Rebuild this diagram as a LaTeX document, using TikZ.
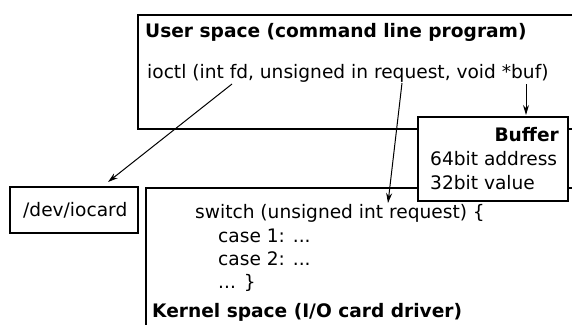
\documentclass[tikz,border=0pt]{standalone}
\usepackage{fontspec}
\setmainfont{DejaVu Sans}
\usetikzlibrary{arrows.meta}
\begin{document}
\begin{tikzpicture}[x=1pt,y=-1pt,
  box/.style={draw,line width=1.2pt,fill=white},
  txt/.style={inner sep=0pt,anchor=base west,font=\fontsize{18.6}{22}\selectfont},
  btxt/.style={txt,font=\fontsize{18.6}{22}\selectfont\bfseries},
  conn/.style={line width=1pt,-{Stealth[length=10pt,width=6pt]}}]
\useasboundingbox (0,0) rectangle (572,324);
\clip (0,0) rectangle (572,324);
% user space and kernel space regions (open towards the edges)
\draw[box] (138,15) rectangle (600,129);
\draw[box] (146,188) rectangle (600,340);
% device file
\node[box,minimum width=128pt,minimum height=46pt,inner sep=0pt] (dev) at (74,210) {};
\node[txt] (devtxt) at (23,216) {/dev/iocard};
% buffer
\node[box,minimum width=150pt,minimum height=84pt,inner sep=0pt] (buf) at (493,159) {};
\node[btxt,anchor=base east] (buftitle) at (559,141) {Buffer};
\node[txt] (addr) at (430,165) {64bit address};
\node[txt] (val) at (430,189) {32bit value};
% user space text
\node[btxt] (utitle) at (145,37) {User space (command line program)};
\node[txt] (ioctl) at (147,78) {ioctl (int fd, unsigned in request, void *buf)};
% kernel space text
\node[txt] (sw) at (195,218) {switch (unsigned int request) \{};
\node[txt] (c1) at (218,242) {case 1: ...};
\node[txt] (c2) at (218,265) {case 2: ...};
\node[txt] (c3) at (218,288) {... \}};
\node[btxt] (ktitle) at (152,317) {Kernel space (I/O card driver)};
% connectors
\coordinate (fdS) at (232,84);
\coordinate (fdE) at (108,182);
\coordinate (reqS) at (402,83);
\coordinate (reqE) at (388,203);
\coordinate (bufS) at (526,84);
\coordinate (bufE) at (526,115);
\draw[conn] (fdS) -- (fdE);
\draw[conn] (reqS) -- (reqE);
\draw[conn] (bufS) -- (bufE);
\end{tikzpicture}
\end{document}
